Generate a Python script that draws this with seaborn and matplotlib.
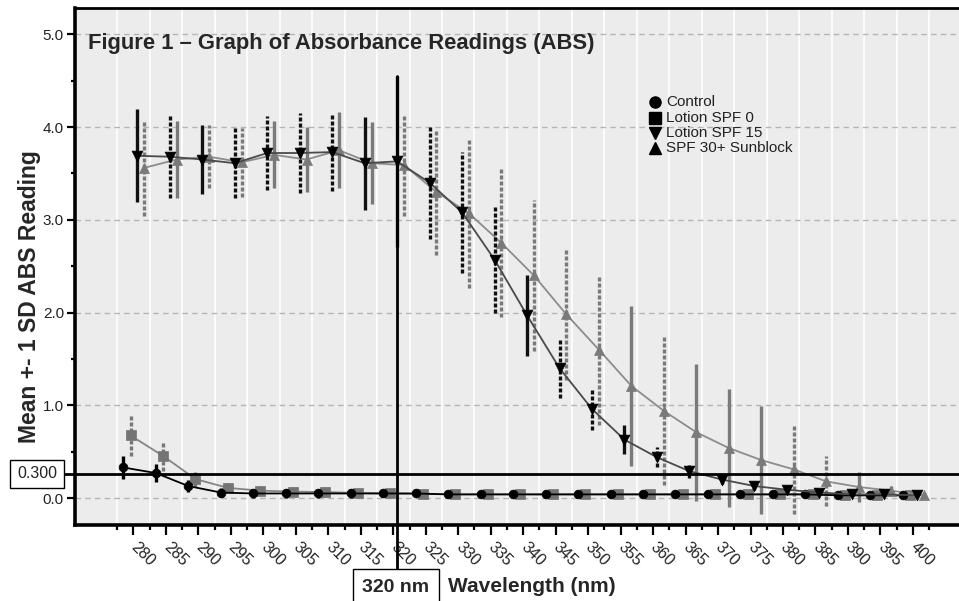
import numpy as np
import pandas as pd
import matplotlib
matplotlib.use("Agg")
import matplotlib.pyplot as plt
import seaborn as sns

# === data ===
wavelengths = list(range(280, 401, 5))

control_mean = [0.33, 0.27, 0.13, 0.06, 0.05, 0.05, 0.05, 0.05, 0.05, 0.05, 0.04, 0.04, 0.04,
                0.04, 0.04, 0.04, 0.04, 0.04, 0.04, 0.04, 0.04, 0.04, 0.03, 0.03, 0.03]
control_sd = [0.12, 0.10, 0.06, 0.05, 0.05, 0.05, 0.05, 0.05, 0.04, 0.03, 0.02, 0.02, 0.02,
              0.02, 0.02, 0.02, 0.02, 0.02, 0.02, 0.02, 0.02, 0.02, 0.02, 0.02, 0.02]

spf0_mean = [0.675, 0.455, 0.205, 0.11, 0.08, 0.07, 0.065, 0.055, 0.05, 0.045, 0.04, 0.04, 0.04,
             0.04, 0.04, 0.04, 0.04, 0.04, 0.04, 0.04, 0.04, 0.04, 0.03, 0.03, 0.03]
spf0_sd = [0.22, 0.16, 0.08, 0.06, 0.05, 0.05, 0.05, 0.04, 0.03, 0.02, 0.02, 0.02, 0.02,
           0.02, 0.02, 0.02, 0.02, 0.02, 0.02, 0.02, 0.02, 0.02, 0.02, 0.02, 0.02]

spf15_mean = [3.69, 3.68, 3.65, 3.61, 3.72, 3.72, 3.73, 3.61, 3.63, 3.40, 3.08, 2.57, 1.97,
              1.40, 0.96, 0.63, 0.44, 0.29, 0.20, 0.13, 0.09, 0.06, 0.04, 0.04, 0.03]
spf15_sd = [0.50, 0.44, 0.37, 0.38, 0.40, 0.43, 0.42, 0.50, 0.92, 0.61, 0.65, 0.58, 0.44,
            0.32, 0.23, 0.16, 0.11, 0.07, 0.05, 0.04, 0.03, 0.03, 0.02, 0.02, 0.02]

spf30_mean = [3.56, 3.65, 3.68, 3.62, 3.70, 3.65, 3.75, 3.61, 3.59, 3.30, 3.07, 2.75, 2.40,
              1.98, 1.60, 1.21, 0.94, 0.71, 0.54, 0.41, 0.31, 0.18, 0.12, 0.08, 0.03]
spf30_sd = [0.52, 0.41, 0.34, 0.37, 0.36, 0.35, 0.41, 0.44, 0.55, 0.68, 0.80, 0.80, 0.81,
            0.71, 0.81, 0.86, 0.80, 0.74, 0.64, 0.58, 0.48, 0.27, 0.16, 0.05, 0.02]

# which error bars are drawn dashed in the original
spf15_dashed = [0, 1, 0, 1, 1, 1, 1, 0, 0, 1, 1, 1, 0, 1, 1, 0, 1, 0, 0, 0, 0, 0, 0, 0, 0]
spf30_dashed = [1, 0, 1, 1, 0, 0, 0, 0, 1, 1, 1, 1, 1, 1, 1, 0, 1, 0, 0, 0, 1, 1, 0, 0, 0]

series_names = ["Control", "Lotion SPF 0", "Lotion SPF 15", "SPF 30+ Sunblock"]
cutoff_wavelength = 320
cutoff_abs = 0.26

# === styling per series ===
styles = {
    "Control":          dict(dx=-1.55, line="black",   mk="o", mc="black",   s=40, bar="black",   z=4),
    "Lotion SPF 0":     dict(dx=-0.45, line="#858585", mk="s", mc="#747474", s=42, bar="#777777", z=3),
    "Lotion SPF 15":    dict(dx=0.60,  line="#4a4a4a", mk="v", mc="black",   s=60, bar="#111111", z=5),
    "SPF 30+ Sunblock": dict(dx=1.65,  line="#8c8c8c", mk="^", mc="#7a7a7a", s=52, bar="#7a7a7a", z=4),
}

frames = []
for name, m, sd, dashed in [
    ("Control", control_mean, control_sd, [0] * len(wavelengths)),
    ("Lotion SPF 0", spf0_mean, spf0_sd, [1] * len(wavelengths)),
    ("Lotion SPF 15", spf15_mean, spf15_sd, spf15_dashed),
    ("SPF 30+ Sunblock", spf30_mean, spf30_sd, spf30_dashed),
]:
    frames.append(pd.DataFrame({"series": name, "wavelength": wavelengths,
                                "mean": m, "sd": sd, "dashed": dashed}))
df = pd.concat(frames, ignore_index=True)
df["xpos"] = df["wavelength"] + df["series"].map(lambda s: styles[s]["dx"])

# === figure ===
sns.set_style("ticks")
plt.rcParams["font.family"] = ["Liberation Sans", "DejaVu Sans"]

fig = plt.figure(figsize=(9.59, 6.01), dpi=100)
ax = fig.add_axes([75 / 959, 1 - 525 / 601, 884 / 959, 516.7 / 601])
ax.set_facecolor("#ececec")

for name in series_names:
    st = styles[name]
    sub = df[df["series"] == name]
    for _, r in sub.iterrows():
        ls = (0, (1.2, 0.6)) if r["dashed"] else "-"
        ax.plot([r["xpos"], r["xpos"]], [r["mean"] - r["sd"], r["mean"] + r["sd"]],
                color=st["bar"], lw=2.4, linestyle=ls, solid_capstyle="butt",
                zorder=st["z"] - 0.5)
    sns.lineplot(data=sub, x="xpos", y="mean", color=st["line"], lw=1.3,
                 ax=ax, zorder=st["z"], legend=False, errorbar=None)
    sns.scatterplot(data=sub, x="xpos", y="mean", marker=st["mk"], color=st["mc"],
                    s=st["s"], edgecolor=st["mc"], linewidth=0.5, ax=ax,
                    zorder=st["z"] + 0.2, legend=False)

ax.set_xlim(271.0, 407.1)
ax.set_ylim(-0.29, 5.28)

ax.set_xticks(wavelengths)
ax.set_xticks(np.arange(277.5, 403, 5), minor=True)
ax.set_yticks(np.arange(0, 5.1, 1.0))
ax.set_yticks(np.arange(0.5, 5.0, 1.0), minor=True)
ax.set_yticklabels([f"{v:.1f}" for v in np.arange(0, 5.1, 1.0)])

ax.grid(which="major", axis="y", color="#b5b5b5", linestyle=(0, (4, 3)), lw=1.0)
ax.grid(which="minor", axis="x", color="white", lw=1.2)
ax.grid(which="major", axis="x", visible=False)
ax.set_axisbelow(True)

ax.tick_params(axis="x", which="major", length=7, width=1.6, pad=7,
               labelsize=11.5, labelcolor="#222222", color="black")
ax.tick_params(axis="x", which="minor", length=3.5, width=1.6, color="black")
ax.tick_params(axis="y", which="major", length=6, width=1.6, pad=2,
               labelsize=11, labelcolor="#222222", color="black")
ax.tick_params(axis="y", which="minor", length=3, width=1.6, color="black")
for lab in ax.get_xticklabels():
    lab.set_rotation(-45)
    lab.set_ha("left")
    lab.set_va("center")
    lab.set_rotation_mode("anchor")

for side in ["left", "bottom"]:
    ax.spines[side].set_linewidth(2.6)
    ax.spines[side].set_color("black")
ax.spines["top"].set_linewidth(2.0)
ax.spines["top"].set_color("black")
ax.spines["right"].set_visible(False)

ax.set_xlabel("")
ax.set_ylabel("")

# reference lines
ax.axhline(cutoff_abs, xmin=(63 - 75) / 884, xmax=1, color="black", lw=2.0,
           clip_on=False, zorder=6)
ax.plot([cutoff_wavelength + 0.55] * 2, [-0.78, 4.55], color="black", lw=2.0,
        clip_on=False, zorder=6)

fig.text(37 / 959, 1 - 474 / 601, "0.300", ha="center", va="center", fontsize=11.5,
         color="#222222",
         bbox=dict(boxstyle="square,pad=0.42", fc="white", ec="black", lw=1.0))
fig.text(396 / 959, 1 - 587 / 601, "320 nm", ha="center", va="center", fontsize=14,
         fontweight="bold",
         bbox=dict(boxstyle="square,pad=0.5", fc="white", ec="black", lw=1.0))

# titles / labels
fig.text(88 / 959, 1 - 44 / 601, "Figure 1 \u2013 Graph of Absorbance Readings (ABS)",
         ha="left", va="center", fontsize=15.8, fontweight="bold")
fig.text(448 / 959, 1 - 587 / 601, "Wavelength (nm)", ha="left", va="center",
         fontsize=15, fontweight="bold")
fig.text(30 / 959, 1 - 297 / 601, "Mean +- 1 SD ABS Reading", ha="center", va="center",
         rotation=90, fontsize=16.5, fontweight="bold")

# legend (black markers, no frame)
legend_rows = [101.7, 118.3, 133.3, 148.3]
for name, ypx in zip(series_names, legend_rows):
    ya = (525 - ypx) / 516.7
    ax.plot([(655 - 75) / 884], [ya], marker=styles[name]["mk"], color="black",
            markersize=8, transform=ax.transAxes, clip_on=False, zorder=7)
    ax.text((666 - 75) / 884, ya, name, transform=ax.transAxes, ha="left", va="center",
            fontsize=11, color="#222222", zorder=7)

fig.savefig("out.png", dpi=100, facecolor="white")
